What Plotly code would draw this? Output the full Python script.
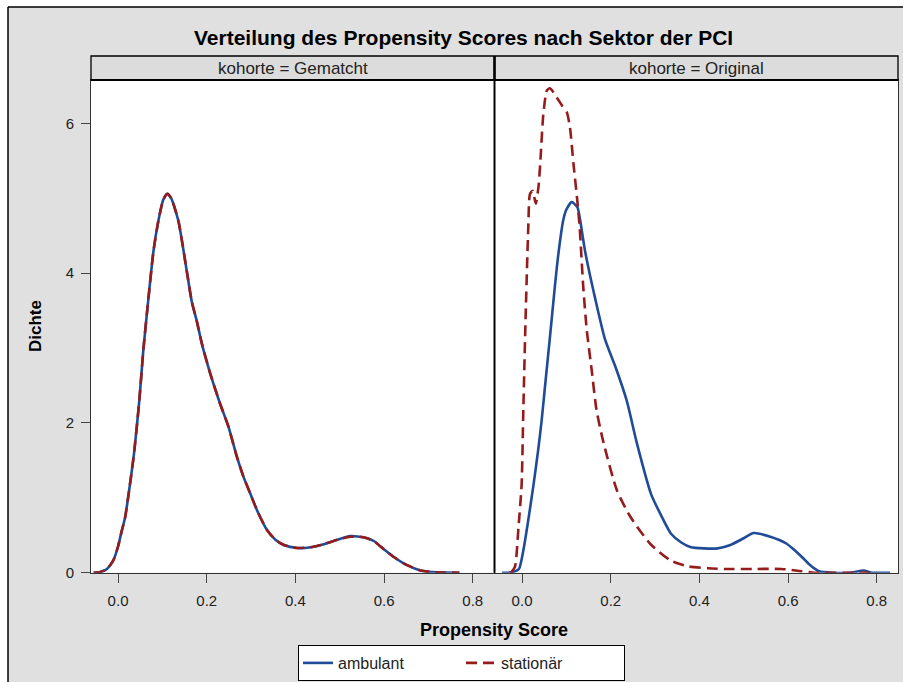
import plotly.graph_objects as go

# ---- density estimates of the propensity score, by cohort and sector ----
# matched cohort ("Gematcht")
gem_score = [-0.055, -0.04, -0.025, -0.011, 0.0, 0.008, 0.016, 0.025, 0.036, 0.048,
             0.057, 0.068, 0.080, 0.091, 0.102, 0.111, 0.120, 0.136, 0.155, 0.166,
             0.178, 0.189, 0.208, 0.230, 0.249, 0.268, 0.283, 0.298, 0.316, 0.336,
             0.355, 0.374, 0.404, 0.435, 0.464, 0.495, 0.524, 0.545, 0.562, 0.578,
             0.592, 0.622, 0.652, 0.682, 0.72, 0.77]
gem_ambulant = [0.0, 0.01, 0.05, 0.16, 0.35, 0.55, 0.74, 1.10, 1.59, 2.30,
                2.97, 3.63, 4.30, 4.70, 4.98, 5.06, 5.00, 4.70, 4.03, 3.63,
                3.35, 3.06, 2.66, 2.26, 1.95, 1.55, 1.28, 1.06, 0.80, 0.57,
                0.44, 0.37, 0.33, 0.34, 0.38, 0.44, 0.49, 0.48, 0.46, 0.42,
                0.35, 0.21, 0.10, 0.03, 0.005, 0.0]
gem_stationaer = [0.0, 0.01, 0.05, 0.16, 0.35, 0.55, 0.74, 1.10, 1.59, 2.30,
                  2.97, 3.63, 4.30, 4.70, 4.98, 5.06, 5.00, 4.70, 4.03, 3.63,
                  3.35, 3.06, 2.66, 2.26, 1.95, 1.55, 1.28, 1.06, 0.80, 0.57,
                  0.44, 0.37, 0.33, 0.34, 0.38, 0.44, 0.48, 0.48, 0.46, 0.42,
                  0.35, 0.21, 0.10, 0.03, 0.005, 0.0]

# original cohort
orig_amb_score = [-0.045, -0.034, -0.02, -0.007, 0.003, 0.014, 0.026, 0.036, 0.044, 0.052,
                  0.063, 0.074, 0.082, 0.093, 0.100, 0.112, 0.125, 0.131, 0.142, 0.153,
                  0.165, 0.187, 0.210, 0.236, 0.259, 0.291, 0.315, 0.336, 0.360, 0.381,
                  0.410, 0.441, 0.470, 0.500, 0.522, 0.560, 0.596, 0.615, 0.633, 0.650,
                  0.670, 0.700, 0.740, 0.770, 0.790, 0.830]
orig_ambulant = [0.0, 0.0, 0.01, 0.05, 0.30, 0.70, 1.18, 1.62, 2.02, 2.50,
                 3.15, 3.82, 4.26, 4.71, 4.85, 4.95, 4.88, 4.71, 4.30, 3.98,
                 3.66, 3.12, 2.76, 2.30, 1.73, 1.05, 0.75, 0.52, 0.40, 0.34,
                 0.325, 0.325, 0.37, 0.46, 0.53, 0.48, 0.39, 0.30, 0.20, 0.10,
                 0.02, 0.0, 0.0, 0.03, 0.0, 0.0]

orig_stat_score = [-0.025, -0.016, -0.008, -0.001, 0.003, 0.008, 0.014, 0.018, 0.024, 0.031,
                   0.037, 0.041, 0.048, 0.056, 0.063, 0.078, 0.090, 0.101, 0.108, 0.116,
                   0.124, 0.130, 0.138, 0.146, 0.157, 0.168, 0.184, 0.214, 0.244, 0.290,
                   0.336, 0.374, 0.420, 0.458, 0.520, 0.585, 0.630, 0.660, 0.800]
orig_stationaer = [0.0, 0.08, 0.61, 1.17, 2.20, 3.40, 4.60, 5.06, 5.10, 4.93,
                   5.15, 5.46, 6.12, 6.44, 6.47, 6.35, 6.24, 6.15, 5.95, 5.46,
                   5.01, 4.61, 3.82, 3.24, 2.71, 2.17, 1.73, 1.10, 0.75, 0.38,
                   0.16, 0.085, 0.06, 0.05, 0.05, 0.05, 0.02, 0.0, 0.0]

x_ticks = [0.0, 0.2, 0.4, 0.6, 0.8]
x_ticklabels = ["0.0", "0.2", "0.4", "0.6", "0.8"]
y_ticks = [0, 2, 4, 6]
panels = ["kohorte = Gematcht", "kohorte = Original"]
groups = ["ambulant", "stationär"]

# ---- page geometry (pixels) ----
W, H = 903, 682
FONT = "Liberation Sans, Arial, sans-serif"
BLUE = "#1f4b99"
RED = "#961c1c"
GREY = "#e0e0e0"


def fx(px):
    return px / W


def fy(py):
    return 1 - py / H


PLOT_TOP, PLOT_BOTTOM = 80, 572.7
HEAD_TOP = 56
LEFT = (91, 494)
RIGHT = (495, 898)
X_RANGE = [-0.061, 0.848]
Y_RANGE = [0, 6.58]

fig = go.Figure()

series = [
    ("x", "y", gem_score, gem_ambulant, gem_score, gem_stationaer, False),
    ("x2", "y2", orig_amb_score, orig_ambulant, orig_stat_score, orig_stationaer, True),
]
for xa, ya, xs_a, ys_a, xs_s, ys_s, show in series:
    fig.add_trace(go.Scatter(x=xs_a, y=ys_a, xaxis=xa, yaxis=ya, mode="lines",
                             name=groups[0], legendgroup=groups[0], showlegend=show,
                             line=dict(color=BLUE, width=2.6, shape="spline", smoothing=0.6)))
    fig.add_trace(go.Scatter(x=xs_s, y=ys_s, xaxis=xa, yaxis=ya, mode="lines",
                             name=groups[1], legendgroup=groups[1], showlegend=show,
                             line=dict(color=RED, width=2.6, dash="11px,6px",
                                       shape="spline", smoothing=0.6)))

axis_common = dict(range=X_RANGE, tickvals=x_ticks, ticktext=x_ticklabels,
                   ticks="outside", ticklen=9, tickwidth=1, tickcolor="#444",
                   showline=True, linecolor="#333", linewidth=1, mirror=True,
                   showgrid=False, zeroline=False, automargin=False,
                   ticklabelstandoff=5,
                   tickfont=dict(family=FONT, size=15, color="#222"))
y_common = dict(range=Y_RANGE, showgrid=False, zeroline=False, automargin=False,
                showline=True, linecolor="#333", linewidth=1, mirror=True,
                domain=[fy(PLOT_BOTTOM), fy(PLOT_TOP)])

fig.update_layout(
    width=W, height=H,
    margin=dict(l=0, r=0, t=0, b=0),
    paper_bgcolor=GREY, plot_bgcolor="white",
    font=dict(family=FONT, color="#222"),
    xaxis=dict(domain=[fx(LEFT[0]), fx(LEFT[1])], anchor="y", **axis_common),
    xaxis2=dict(domain=[fx(RIGHT[0]), fx(RIGHT[1])], anchor="y2", **axis_common),
    yaxis=dict(anchor="x", tickvals=y_ticks, ticks="outside", ticklen=9,
               tickcolor="#444", ticklabelstandoff=4,
               tickfont=dict(family=FONT, size=15, color="#222"), **y_common),
    yaxis2=dict(anchor="x2", matches="y", showticklabels=False, ticks="", **y_common),
    showlegend=True,
    legend=dict(orientation="h", x=fx(461.5), xanchor="center", y=fy(645), yanchor="top",
                bgcolor="white", bordercolor="black", borderwidth=1,
                font=dict(family=FONT, size=16, color="#222"),
                entrywidth=118, tracegroupgap=0),
)

shapes = []
# white page outside the framed graph area
shapes.append(dict(type="rect", xref="paper", yref="paper", x0=0, x1=1, y0=fy(7), y1=1,
                   fillcolor="white", line=dict(width=0), layer="above"))
shapes.append(dict(type="rect", xref="paper", yref="paper", x0=0, x1=fx(8), y0=0, y1=1,
                   fillcolor="white", line=dict(width=0), layer="above"))
# frame border
shapes.append(dict(type="line", xref="paper", yref="paper", x0=fx(8), x1=fx(8),
                   y0=0, y1=fy(7), line=dict(color="black", width=1.5)))
shapes.append(dict(type="line", xref="paper", yref="paper", x0=fx(8), x1=1,
                   y0=fy(7), y1=fy(7), line=dict(color="black", width=1.5)))
# panel header cells
for (x0, x1) in (LEFT, RIGHT):
    shapes.append(dict(type="rect", xref="paper", yref="paper",
                       x0=fx(x0), x1=fx(x1), y0=fy(PLOT_TOP), y1=fy(HEAD_TOP),
                       fillcolor="#dcdcdc", line=dict(color="black", width=1.3)))
# heavy divider between the two panels
shapes.append(dict(type="line", xref="paper", yref="paper", x0=fx(494.5), x1=fx(494.5),
                   y0=fy(PLOT_BOTTOM), y1=fy(HEAD_TOP), line=dict(color="black", width=2)))
shapes.append(dict(type="line", xref="paper", yref="paper", x0=fx(LEFT[0]), x1=fx(RIGHT[1]),
                   y0=fy(PLOT_TOP), y1=fy(PLOT_TOP), line=dict(color="black", width=2)))
fig.update_layout(shapes=shapes)


def label(text, px, py, size, angle=0, color="#222"):
    return dict(text=text, x=fx(px), y=fy(py), xref="paper", yref="paper",
                xanchor="center", yanchor="middle", showarrow=False, textangle=angle,
                font=dict(family=FONT, size=size, color=color))


annotations = [
    label("<b>Verteilung des Propensity Scores nach Sektor der PCI</b>", 464, 38, 21, color="black"),
    label(panels[0], sum(LEFT) / 2, 68, 17),
    label(panels[1], sum(RIGHT) / 2, 68, 17),
    label("<b>Propensity Score</b>", 494, 630, 18, color="black"),
    label("<b>Dichte</b>", 35, 326, 17, angle=-90, color="black"),
]
fig.update_layout(annotations=annotations)

fig.write_html("out.html")
